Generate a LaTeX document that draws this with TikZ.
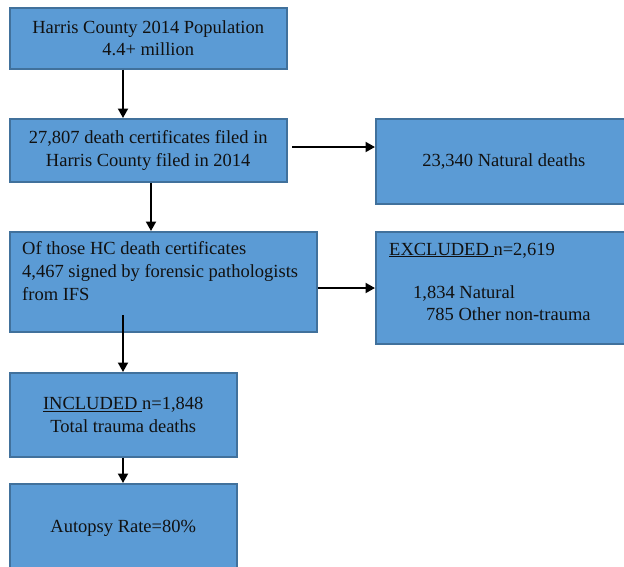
\documentclass[tikz,border=0pt]{standalone}
\usepackage{fontspec}
\setmainfont{Liberation Serif}
\usetikzlibrary{arrows.meta}
\definecolor{boxfill}{HTML}{5B9BD5}
\definecolor{boxline}{HTML}{41719C}
\definecolor{ink}{HTML}{111111}
\begin{document}
\begin{tikzpicture}[x=1pt,y=-1pt,
  box/.style={draw=boxline, line width=1.5pt, fill=boxfill, anchor=north west,
    inner sep=0pt, text=ink, font=\fontsize{18.5}{22.5}\selectfont, align=center},
  arr/.style={line width=2pt, draw=black, -{Triangle[length=9.5pt,width=10pt]}},
  txt/.style={anchor=base west, inner sep=0pt, text=ink, font=\fontsize{18.5}{23}\selectfont}
]
\useasboundingbox (0,0) rectangle (624,566);

\node[box, minimum width=277pt, minimum height=61pt] (a) at (9,7)
  {Harris County 2014 Population\\4.4+ million};
\node[box, minimum width=277pt, minimum height=63pt] (b) at (9,118)
  {27,807 death certificates filed in\\Harris County filed in 2014};
\node[box, minimum width=256pt, minimum height=85pt] (c) at (375,118)
  {23,340 Natural deaths};
\node[box, minimum width=307pt, minimum height=100pt] (d) at (9,231) {};
\node[box, minimum width=256pt, minimum height=112pt] (e) at (375,231) {};
\node[box, minimum width=227pt, minimum height=84pt] (f) at (9,372)
  {\underline{INCLUDED\ }n=1,848\\Total trauma deaths};
\node[box, minimum width=227pt, minimum height=90pt] (g) at (9,483)
  {Autopsy Rate=80\%};

\node[txt] (dtext) at (22,254) {\vtop{\hbox{Of those HC death certificates}\hbox{4,467 signed by forensic pathologists}\hbox{from IFS}}};
\node[txt] (e1) at (389,255) {\underline{EXCLUDED\ }n=2,619};
\node[txt] (e2) at (413,298) {1,834 Natural};
\node[txt] (e3) at (426,320) {785 Other non-trauma};

\coordinate (x1) at (123,0);
\coordinate (x2) at (151,0);
\coordinate (bc) at (292,147);
\coordinate (y3) at (0,288);
\coordinate (df) at (123,315);

\draw[arr] (a.south -| x1) -- (b.north -| x1);
\draw[arr] (bc) -- (c.west |- bc);
\draw[arr] (b.south -| x2) -- (d.north -| x2);
\draw[arr] (d.east |- y3) -- (e.west |- y3);
\draw[arr] (df) -- (f.north -| df);
\draw[arr] (f.south -| x1) -- (g.north -| x1);
\end{tikzpicture}
\end{document}
